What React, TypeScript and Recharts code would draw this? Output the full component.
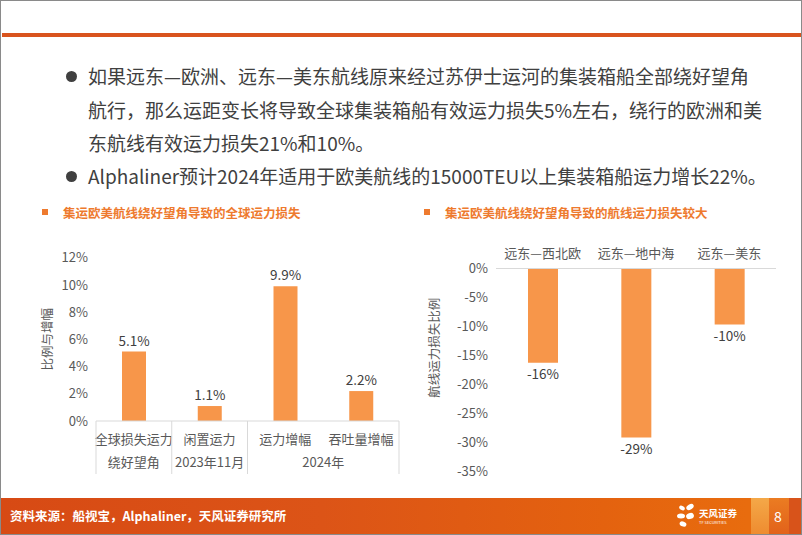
import React from 'react';
import { BarChart, Bar, XAxis, YAxis, LabelList } from 'recharts';

const leftCategories = ['全球损失运力', '闲置运力', '运力增幅', '吞吐量增幅'];
const leftGroups = ['绕好望角', '2023年11月', '2024年', '2024年'];
const leftValues = [5.1, 1.1, 9.9, 2.2];
const leftTicks = [0, 2, 4, 6, 8, 10, 12];

const rightCategories = ['远东—西北欧', '远东—地中海', '远东—美东'];
const rightValues = [-16.3, -29.2, -9.7];
const rightTicks = [0, -5, -10, -15, -20, -25, -30, -35];

const bulletLines = [
  '如果远东—欧洲、远东—美东航线原来经过苏伊士运河的集装箱船全部绕好望角',
  '航行，那么运距变长将导致全球集装箱船有效运力损失5%左右，绕行的欧洲和美',
  '东航线有效运力损失21%和10%。',
  'Alphaliner预计2024年适用于欧美航线的15000TEU以上集装箱船运力增长22%。',
];

const leftData = leftCategories.map((name, i) => ({ name, group: leftGroups[i], value: leftValues[i] }));
const rightData = rightCategories.map((name, i) => ({ name, value: rightValues[i] }));

const FONT = '"Noto Sans CJK SC", "Noto Sans", sans-serif';
const BAR = '#F7964A';
const TICK = '#595959';
const LABEL = '#404040';
const GRID = '#D9D9D9';
const TITLE = '#EE7A2E';

const LeftTick = (props: any) => {
  const { x, y, payload, index } = props;
  const i = typeof index === 'number' ? index : payload.index;
  const half = payload && typeof payload.offset === 'number' && payload.offset > 0 ? payload.offset : 37.8;
  const g = leftGroups[i];
  const isStart = i === 0 || leftGroups[i - 1] !== g;
  const isLast = i === leftGroups.length - 1;
  let size = 1;
  while (i + size < leftGroups.length && leftGroups[i + size] === g) size++;
  return (
    <g>
      <text x={x} y={y + 17} textAnchor="middle" dominantBaseline="central" fontSize={13} fill={TICK} fontFamily={FONT}>
        {payload.value}
      </text>
      {isStart && (
        <line x1={x - half} y1={y} x2={x - half} y2={y + 53} stroke={GRID} strokeWidth={1} />
      )}
      {isLast && (
        <line x1={x + half} y1={y} x2={x + half} y2={y + 53} stroke={GRID} strokeWidth={1} />
      )}
      {isStart && (
        <text x={x - half + size * half} y={y + 40} textAnchor="middle" dominantBaseline="central" fontSize={13} fill={TICK} fontFamily={FONT}>
          {g}
        </text>
      )}
    </g>
  );
};

const RightTick = (props: any) => {
  const { x, y, payload } = props;
  return (
    <text x={x} y={y - 16} textAnchor="middle" dominantBaseline="central" fontSize={13} fill={TICK} fontFamily={FONT}>
      {payload.value}
    </text>
  );
};

const makeYLabel = (text: string, dx: number, dy: number) => (props: any) => {
  const vb = props.viewBox || {};
  const cx = (vb.x || 0) + dx;
  const cy = (vb.y || 0) + (vb.height || 0) / 2 + dy;
  return (
    <text x={cx} y={cy} transform={`rotate(-90, ${cx}, ${cy})`} textAnchor="middle" dominantBaseline="central" fontSize={12.5} fill={TICK} fontFamily={FONT}>
      {text}
    </text>
  );
};

const Title = ({ left, top, text }: { left: number; top: number; text: string }) => (
  <div style={{ position: 'absolute', left, top, height: 20, display: 'flex', alignItems: 'center' }}>
    <div style={{ width: 6, height: 6, background: TITLE, marginRight: 15 }} />
    <div style={{ fontSize: 12.5, fontWeight: 700, color: TITLE, whiteSpace: 'nowrap', fontFamily: FONT }}>{text}</div>
  </div>
);

export default function App() {
  return (
    <div
      style={{
        position: 'absolute',
        left: 0,
        top: 0,
        width: 802,
        height: 535,
        background: '#fff',
        overflow: 'hidden',
        fontFamily: FONT,
        boxSizing: 'border-box',
        border: '1px solid #8a8a8a',
      }}
    >
      {/* top orange rule */}
      <div style={{ position: 'absolute', left: 1, top: 32, width: 799, height: 4, background: '#D9541E' }} />

      {/* bullets */}
      {bulletLines.map((line, i) => {
        const centers = [75, 109, 142, 175];
        const hasBullet = i === 0 || i === 3;
        return (
          <React.Fragment key={i}>
            {hasBullet && (
              <div
                style={{
                  position: 'absolute',
                  left: 65,
                  top: centers[i] - 5,
                  width: 11,
                  height: 11,
                  borderRadius: '50%',
                  background: '#404040',
                }}
              />
            )}
            <div
              style={{
                position: 'absolute',
                left: 87,
                top: centers[i] - 17,
                height: 34,
                lineHeight: '34px',
                fontSize: 19,
                color: '#404040',
                whiteSpace: 'nowrap',
              }}
            >
              {line}
            </div>
          </React.Fragment>
        );
      })}

      <Title left={41} top={201} text="集运欧美航线绕好望角导致的全球运力损失" />
      <Title left={423} top={201} text="集运欧美航线绕好望角导致的航线运力损失较大" />

      {/* left chart */}
      <div style={{ position: 'absolute', left: 30, top: 240 }}>
        <BarChart width={380} height={250} data={leftData} margin={{ top: 16.7, right: 12, bottom: 10, left: 5 }}>
          <XAxis
            dataKey="name"
            height={60}
            axisLine={{ stroke: GRID }}
            tickLine={false}
            tickSize={0}
            tickMargin={0}
            interval={0}
            tick={<LeftTick />}
          />
          <YAxis
            width={60}
            domain={[0, 12]}
            ticks={leftTicks}
            axisLine={false}
            tickLine={false}
            tickFormatter={(v: number) => `${v}%`}
            tick={{ fontSize: 13, fill: TICK, fontFamily: FONT }}
            label={makeYLabel('比例与增幅', 11, 0)}
          />
          <Bar dataKey="value" fill={BAR} barSize={24} isAnimationActive={false}>
            <LabelList
              dataKey="value"
              position="top"
              offset={6}
              formatter={(v: any) => `${v}%`}
              style={{ fontSize: 13.5, fill: LABEL, fontFamily: FONT }}
            />
          </Bar>
        </BarChart>
      </div>

      {/* right chart */}
      <div style={{ position: 'absolute', left: 415, top: 230 }}>
        <BarChart width={385} height={250} data={rightData} margin={{ top: 7.5, right: 25, bottom: 10, left: 5 }}>
          <XAxis
            dataKey="name"
            orientation="top"
            height={30}
            axisLine={{ stroke: GRID }}
            tickLine={false}
            tickSize={0}
            tickMargin={0}
            interval={0}
            tick={<RightTick />}
          />
          <YAxis
            width={75}
            domain={[-35, 0]}
            ticks={rightTicks}
            axisLine={false}
            tickLine={false}
            tickFormatter={(v: number) => `${v}%`}
            tick={{ fontSize: 13, fill: TICK, fontFamily: FONT }}
            label={makeYLabel('航线运力损失比例', 12, -22)}
          />
          <Bar dataKey="value" fill={BAR} barSize={30} isAnimationActive={false}>
            <LabelList
              dataKey="value"
              position="top"
              offset={7}
              formatter={(v: any) => `${Math.round(Number(v))}%`}
              style={{ fontSize: 13.5, fill: LABEL, fontFamily: FONT }}
            />
          </Bar>
        </BarChart>
      </div>

      {/* footer */}
      <div
        style={{
          position: 'absolute',
          left: 0,
          top: 497,
          width: 802,
          height: 36,
          background: 'linear-gradient(90deg, #D74A14 0%, #DC5417 40%, #E4620F 75%, #E86C0E 93%)',
        }}
      />
      <div style={{ position: 'absolute', left: 750, top: 497, width: 18, height: 36, background: 'linear-gradient(180deg, #F4A848 0%, #EE8C30 100%)' }} />
      <div style={{ position: 'absolute', left: 768, top: 497, width: 20, height: 36, background: 'linear-gradient(180deg, #EB7C22 0%, #E2621A 100%)' }} />
      <div style={{ position: 'absolute', left: 788, top: 497, width: 14, height: 36, background: '#D8531A' }} />
      <div
        style={{
          position: 'absolute',
          left: 9,
          top: 505,
          height: 20,
          lineHeight: '20px',
          fontSize: 12.5,
          fontWeight: 700,
          color: '#fff',
          whiteSpace: 'nowrap',
        }}
      >
        资料来源：船视宝，Alphaliner，天风证券研究所
      </div>
      <svg style={{ position: 'absolute', left: 674, top: 501 }} width={70} height={28}>
        <ellipse cx={7} cy={6} rx={3} ry={2} fill="#fff" transform="rotate(30 7 6)" />
        <ellipse cx={15} cy={5} rx={4} ry={2.5} fill="#fff" transform="rotate(-30 15 5)" />
        <ellipse cx={6} cy={14} rx={4} ry={2.5} fill="#fff" />
        <ellipse cx={15} cy={14} rx={4} ry={3} fill="#fff" transform="rotate(-20 15 14)" />
        <ellipse cx={8} cy={22} rx={3.5} ry={2.5} fill="#fff" transform="rotate(20 8 22)" />
        <text x={24} y={15} fontSize={9.5} fontWeight={700} fill="#fff" fontFamily={FONT}>天风证券</text>
        <text x={24} y={22} fontSize={4} fill="#fff" fontFamily={FONT}>TF SECURITIES</text>
      </svg>
      <div style={{ position: 'absolute', left: 770, top: 505, width: 14, height: 20, lineHeight: '20px', fontSize: 14, color: '#fff', textAlign: 'center' }}>
        8
      </div>
    </div>
  );
}
